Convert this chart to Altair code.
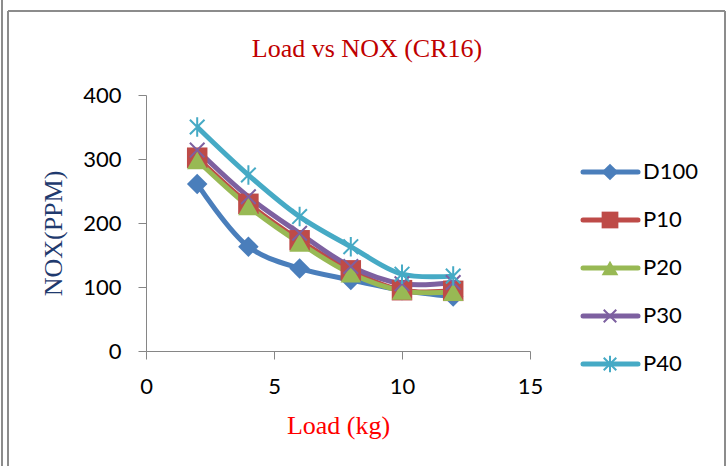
import altair as alt
import pandas as pd

loads = [2, 4, 6, 8, 10, 12]
series = ["D100", "P10", "P20", "P30", "P40"]
d100 = [261, 163, 129, 111, 95, 85]
p10 = [302, 230, 173, 126, 95, 94]
p20 = [298, 226, 169, 121, 94, 92]
p30 = [314, 241, 184, 132, 105, 107]
p40 = [350, 275, 210, 163, 120, 117]
colors = ["#4A7EBB", "#BE4B48", "#98B954", "#7D60A0", "#46AAC5"]
x_ticks = [0, 5, 10, 15]
y_ticks = [0, 100, 200, 300, 400]
title_text = "Load vs NOX (CR16)"

values = {"D100": d100, "P10": p10, "P20": p20, "P30": p30, "P40": p40}
rows = []
for s in series:
    for xv, yv in zip(loads, values[s]):
        rows.append({"series": s, "load": xv, "nox": yv})
df = pd.DataFrame(rows)

shapes = [
    "diamond",
    "square",
    "triangle-up",
    "M-0.75,-0.75L0.75,0.75M-0.75,0.75L0.75,-0.75",
    "M-0.75,-0.75L0.75,0.75M-0.75,0.75L0.75,-0.75M0,-1L0,1",
]

W, H = 384, 256
PL, PT = 146, 95

color_scale = alt.Scale(domain=series, range=colors)
shape_scale = alt.Scale(domain=series, range=shapes)

xenc = alt.X(
    "load:Q",
    scale=alt.Scale(domain=[0, 15], nice=False),
    axis=alt.Axis(
        values=x_ticks, title="Load (kg)", grid=False, labelFlush=False,
        domainColor="#868686", tickColor="#868686", tickSize=8,
        labelFont="Lato", labelFontSize=22, labelColor="#000000", labelPadding=17,
        titleFont="Liberation Serif", titleFontSize=26, titleColor="#FF0000",
        titleFontWeight="normal", titleX=W / 2, titleY=82, titleBaseline="alphabetic",
        titleAlign="center",
    ),
)
yenc = alt.Y(
    "nox:Q",
    scale=alt.Scale(domain=[0, 400], nice=False),
    axis=alt.Axis(
        values=y_ticks, title="NOX(PPM)", grid=False, labelFlush=False,
        domainColor="#868686", tickColor="#868686", tickSize=8,
        labelFont="Lato", labelFontSize=22, labelColor="#000000", labelPadding=17,
        titleFont="Liberation Serif", titleFontSize=26, titleColor="#1F3A6E",
        titleFontWeight="normal", titleX=-93, titleY=138, titleBaseline="middle",
        titleAlign="center", titleAngle=-90,
    ),
)

base = alt.Chart(df)
lines = base.mark_line(interpolate="catmull-rom", strokeWidth=5).encode(
    x=xenc, y=yenc,
    color=alt.Color("series:N", scale=color_scale, legend=None),
    detail="series:N",
)
filled_pts = base.transform_filter(
    alt.FieldOneOfPredicate(field="series", oneOf=["D100", "P10", "P20"])
).mark_point(filled=True, opacity=1, size=420).encode(
    x="load:Q", y="nox:Q",
    color=alt.Color("series:N", scale=color_scale, legend=None),
    shape=alt.Shape("series:N", scale=shape_scale, legend=None),
)
open_pts = base.transform_filter(
    alt.FieldOneOfPredicate(field="series", oneOf=["P30", "P40"])
).mark_point(filled=False, opacity=1, size=380, strokeWidth=2).encode(
    x="load:Q", y="nox:Q",
    color=alt.Color("series:N", scale=color_scale, legend=None),
    shape=alt.Shape("series:N", scale=shape_scale, legend=None),
)
main = alt.layer(lines, filled_pts, open_pts)

# manual legend
leg_df = pd.DataFrame({"series": series})
leg_y = alt.Y("series:N", scale=alt.Scale(type="point", domain=series, range=[77, 269], padding=0), axis=None)
leg_base = alt.Chart(leg_df)
leg_line = leg_base.mark_rule(strokeWidth=5, strokeCap="round").encode(
    x=alt.value(437), x2=alt.value(492), y=leg_y,
    color=alt.Color("series:N", scale=color_scale, legend=None),
)
leg_fill = leg_base.transform_filter(
    alt.FieldOneOfPredicate(field="series", oneOf=["D100", "P10", "P20"])
).mark_point(filled=True, opacity=1, size=280).encode(
    x=alt.value(464), y=leg_y,
    color=alt.Color("series:N", scale=color_scale, legend=None),
    shape=alt.Shape("series:N", scale=shape_scale, legend=None),
)
leg_open = leg_base.transform_filter(
    alt.FieldOneOfPredicate(field="series", oneOf=["P30", "P40"])
).mark_point(filled=False, opacity=1, size=280, strokeWidth=2).encode(
    x=alt.value(464), y=leg_y,
    color=alt.Color("series:N", scale=color_scale, legend=None),
    shape=alt.Shape("series:N", scale=shape_scale, legend=None),
)
leg_text = leg_base.mark_text(align="left", baseline="middle", font="Lato", fontSize=22, color="#000000").encode(
    x=alt.value(497), y=leg_y, text="series:N",
)
legend = alt.layer(leg_line, leg_fill, leg_open, leg_text)

# frame and title
one = pd.DataFrame({"t": [title_text]})
fb = alt.Chart(one)
frame_color = "#8C8C8C"
f1 = fb.mark_rule(color=frame_color, strokeWidth=2).encode(x=alt.value(2 - PL), y=alt.value(-PT), y2=alt.value(466 - PT))
f2 = fb.mark_rule(color=frame_color, strokeWidth=2).encode(x=alt.value(8 - PL), y=alt.value(11 - PT), y2=alt.value(466 - PT))
f3 = fb.mark_rule(color=frame_color, strokeWidth=2).encode(x=alt.value(8 - PL), x2=alt.value(725 - PL), y=alt.value(11 - PT))
f4 = fb.mark_rule(color=frame_color, strokeWidth=2).encode(x=alt.value(725 - PL), y=alt.value(11 - PT), y2=alt.value(466 - PT))
title = fb.mark_text(
    font="Liberation Serif", fontSize=26, color="#C00000", align="center", baseline="alphabetic",
).encode(x=alt.value(367 - PL), y=alt.value(57 - PT), text="t:N")
deco = alt.layer(f1, f2, f3, f4, title)

chart = alt.layer(deco, main, legend).resolve_scale(y="independent").properties(
    width=W, height=H,
    autosize=alt.AutoSizeParams(type="none"),
    padding={"left": PL, "top": PT, "right": 726 - PL - W, "bottom": 466 - PT - H},
    background="white",
).configure_view(stroke=None)

chart.save("out.html", embed_options={"renderer": "svg", "actions": False})
